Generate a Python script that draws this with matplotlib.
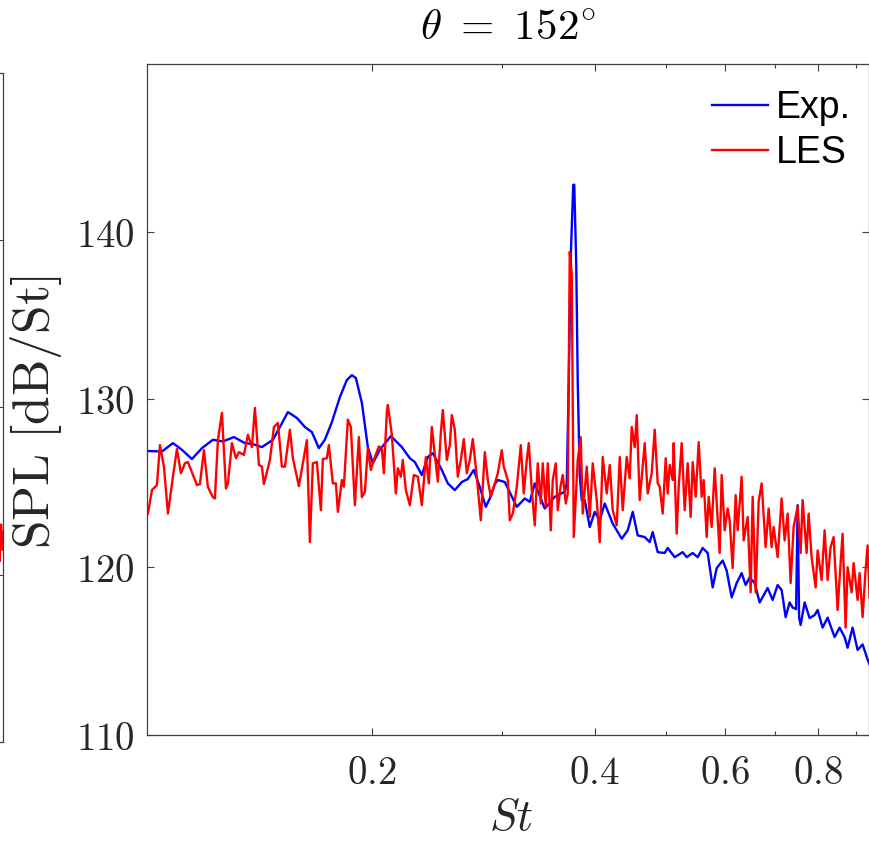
import numpy as np
import matplotlib
matplotlib.use("Agg")
import matplotlib.pyplot as plt
from matplotlib.ticker import FixedLocator, FixedFormatter, NullFormatter

plt.rcParams["mathtext.fontset"] = "cm"

# ---- experimental spectrum (Exp.) ----
exp_st = [0.0995, 0.10413, 0.10775, 0.11081, 0.11431, 0.11791, 0.12201, 0.12587,
          0.13025, 0.13478, 0.13817, 0.14209, 0.14703, 0.15027, 0.15405, 0.15842,
          0.16241, 0.16598, 0.16963, 0.17283, 0.17663, 0.18107, 0.18505, 0.18796,
          0.19031, 0.19389, 0.19754, 0.20063, 0.20504, 0.21218, 0.21956, 0.22509,
          0.22862, 0.23364, 0.23804, 0.24176, 0.24862, 0.25330, 0.25887, 0.26457,
          0.26955, 0.27462, 0.27979, 0.28506, 0.28862, 0.29314, 0.29589, 0.30240,
          0.31390, 0.32179, 0.32683, 0.33195, 0.34243, 0.35324, 0.36439, 0.36666,
          0.36895, 0.37125, 0.37415, 0.37532, 0.37766, 0.37942, 0.38178, 0.38416,
          0.38776, 0.39383, 0.40000, 0.40626, 0.41263, 0.42302, 0.43502, 0.44321,
          0.45015, 0.45720, 0.46726, 0.47457, 0.47902, 0.48652, 0.49722, 0.50188,
          0.51291, 0.52582, 0.53240, 0.54243, 0.55092, 0.55954, 0.56831, 0.57721,
          0.58443, 0.59543, 0.60288, 0.61232, 0.62191, 0.63165, 0.63955, 0.64755,
          0.65770, 0.66799, 0.68481, 0.69554, 0.70643, 0.71527, 0.72421, 0.73327,
          0.74014, 0.74820, 0.75173, 0.75523, 0.75877, 0.76827, 0.78030, 0.79253,
          0.80000, 0.81247, 0.82520, 0.84335, 0.85655, 0.86997, 0.87812, 0.89187,
          0.90584, 0.92002, 0.93443, 0.94025]
exp_spl = [126.93, 126.9, 127.4, 127.0, 126.45, 127.1, 127.6, 127.5,
           127.76, 127.4, 127.34, 127.16, 127.6, 128.36, 129.25, 128.9,
           128.36, 128.06, 127.1, 127.6, 128.65, 130.14, 131.16, 131.45,
           131.28, 129.8, 127.16, 126.2, 127.0, 127.82, 127.16, 126.5,
           126.27, 125.5, 126.57, 126.8, 125.8, 125.0, 124.6, 125.08,
           125.26, 125.8, 124.78, 123.6, 124.1, 124.96, 125.2, 125.08,
           123.6, 124.1, 123.9, 125.0, 123.5, 124.2, 124.5, 125.0,
           131.0, 138.5, 142.8, 142.8, 138.0, 131.0, 125.5, 124.0,
           124.0, 122.4, 123.3, 122.8, 123.8, 122.6, 121.7, 122.2,
           123.3, 121.9, 121.8, 121.5, 122.1, 120.9, 120.85, 121.15,
           120.6, 120.9, 120.6, 120.85, 120.6, 121.15, 120.85, 118.8,
           119.95, 120.4, 119.8, 118.2, 119.06, 119.65, 118.94, 119.4,
           119.06, 117.9, 118.76, 118.05, 118.94, 118.64, 117.03, 117.9,
           117.6, 117.5, 123.7, 117.0, 116.56, 117.9, 116.97, 117.15,
           117.45, 116.4, 117.0, 115.84, 116.4, 115.84, 115.2, 116.4,
           115.07, 115.4, 114.5, 114.2]

# ---- LES spectrum ----
les_st = [0.09969, 0.10094, 0.10252, 0.10348, 0.10477, 0.10609, 0.10775, 0.10910,
          0.11046, 0.11185, 0.11289, 0.11610, 0.11718, 0.11865, 0.12013, 0.12201,
          0.12277, 0.12392, 0.12548, 0.12705, 0.12784, 0.12944, 0.13106, 0.13229,
          0.13436, 0.13604, 0.13774, 0.13904, 0.14077, 0.14209, 0.14298, 0.14567,
          0.14749, 0.14934, 0.15121, 0.15262, 0.15501, 0.15646, 0.15941, 0.16342,
          0.16495, 0.16650, 0.16858, 0.17069, 0.17175, 0.17390, 0.17499, 0.17717,
          0.17884, 0.17995, 0.18220, 0.18334, 0.18563, 0.18737, 0.18972, 0.19209,
          0.19389, 0.19571, 0.19754, 0.19939, 0.20188, 0.20441, 0.20632, 0.20761,
          0.20955, 0.21020, 0.21284, 0.21550, 0.21685, 0.21888, 0.22024, 0.22231,
          0.22509, 0.22791, 0.23076, 0.23364, 0.23656, 0.23878, 0.24101, 0.24327,
          0.24555, 0.24785, 0.24940, 0.25252, 0.25488, 0.25647, 0.25887, 0.26130,
          0.26375, 0.26622, 0.26871, 0.27123, 0.27377, 0.27720, 0.28066, 0.28417,
          0.28684, 0.28952, 0.29223, 0.29589, 0.29959, 0.30145, 0.30523, 0.30714,
          0.31002, 0.31390, 0.31782, 0.32079, 0.32380, 0.32582, 0.32887, 0.33195,
          0.33506, 0.33820, 0.34031, 0.34350, 0.34564, 0.34887, 0.35105, 0.35434,
          0.35655, 0.35989, 0.36213, 0.36553, 0.36780, 0.37010, 0.37241, 0.37473,
          0.37942, 0.38297, 0.38536, 0.39018, 0.39383, 0.39752, 0.40249, 0.40626,
          0.41007, 0.41520, 0.41909, 0.42302, 0.42831, 0.43232, 0.43637, 0.44183,
          0.44597, 0.44875, 0.45296, 0.45578, 0.46005, 0.46436, 0.46726, 0.47163,
          0.47753, 0.48201, 0.48652, 0.48955, 0.49414, 0.49877, 0.50188, 0.50500,
          0.50973, 0.51132, 0.51611, 0.51933, 0.52419, 0.52910, 0.53406, 0.53906,
          0.54243, 0.54751, 0.55264, 0.55781, 0.56128, 0.56655, 0.57008, 0.57542,
          0.58081, 0.58625, 0.58990, 0.59358, 0.59914, 0.60475, 0.60852, 0.61422,
          0.61998, 0.62384, 0.63165, 0.63558, 0.64354, 0.64956, 0.65362, 0.65974,
          0.66592, 0.67216, 0.68057, 0.68694, 0.69338, 0.69770, 0.70643, 0.71527,
          0.72197, 0.72873, 0.73555, 0.74244, 0.75173, 0.75877, 0.76351, 0.77306,
          0.77788, 0.78517, 0.79499, 0.80000, 0.80995, 0.81754, 0.82520, 0.83292,
          0.84073, 0.85125, 0.85921, 0.86458, 0.87268, 0.87812, 0.88910, 0.89464,
          0.90584, 0.91148, 0.92002, 0.92864, 0.93443, 0.94025]
les_spl = [123.2, 124.6, 124.9, 127.28, 126.0, 123.2, 125.4, 127.05,
           125.6, 126.2, 126.27, 124.9, 124.96, 126.98, 124.78, 124.18,
           124.1, 127.58, 129.2, 124.7, 125.0, 127.4, 126.5, 126.86,
           126.7, 127.9, 127.16, 129.5, 126.1, 126.0, 124.96, 126.4,
           128.36, 128.6, 126.0, 126.0, 128.2, 126.5, 124.84, 127.58,
           121.5, 126.2, 126.27, 123.4, 126.45, 126.5, 127.28, 125.0,
           125.0, 123.3, 125.2, 124.8, 128.8, 128.36, 123.7, 127.76,
           124.18, 124.5, 127.1, 125.8, 126.57, 127.2, 127.1, 125.6,
           129.25, 129.67, 127.9, 124.4, 125.9, 125.4, 126.4, 124.6,
           123.7, 125.5, 125.4, 123.7, 126.57, 125.0, 128.36, 126.7,
           125.1, 128.0, 129.37, 126.4, 127.28, 129.07, 128.2, 125.4,
           126.4, 127.64, 125.6, 126.4, 127.64, 125.4, 122.8, 126.86,
           125.2, 124.2, 124.78, 125.6, 126.98, 126.0, 125.2, 122.8,
           123.2, 124.78, 127.28, 124.4, 126.4, 127.4, 124.6, 122.5,
           126.2, 123.8, 126.2, 123.6, 126.2, 122.2, 125.2, 126.2,
           123.4, 124.9, 125.5, 123.8, 124.4, 138.8, 137.5, 121.8,
           126.4, 127.76, 123.2, 126.0, 123.0, 126.2, 124.0, 121.5,
           126.57, 124.4, 126.1, 123.4, 122.5, 126.57, 123.4, 126.57,
           125.3, 128.36, 127.16, 129.07, 124.0, 126.0, 127.4, 124.4,
           125.6, 128.2, 125.0, 124.8, 123.2, 126.5, 124.4, 126.1,
           125.2, 127.4, 122.0, 124.78, 127.4, 123.4, 126.2, 123.0,
           126.27, 124.2, 127.46, 124.2, 125.2, 121.8, 124.2, 122.4,
           125.9, 122.8, 120.85, 125.5, 122.2, 123.5, 122.8, 119.95,
           124.3, 122.2, 125.4, 121.6, 123.0, 118.5, 124.2, 118.5,
           123.9, 125.0, 121.2, 123.5, 121.2, 122.4, 120.6, 124.1,
           121.6, 123.2, 119.06, 122.4, 123.6, 120.85, 124.0, 120.85,
           123.2, 120.6, 118.8, 121.0, 119.24, 122.2, 119.24, 121.2,
           121.8, 117.45, 120.25, 122.0, 116.4, 120.0, 118.5, 120.25,
           118.05, 119.65, 117.03, 119.83, 121.3, 118.2]

# ---- tail of the neighbouring panel ----
prev_st = [0.925, 0.928, 0.931, 0.935, 0.939]
prev_les = [112.0, 114.4, 110.8, 113.0, 111.5]
prev_exp = [112.4, 112.5, 112.5, 112.6, 112.5]

x_major = [0.2, 0.4, 0.6, 0.8]
x_major_labels = ["0.2", "0.4", "0.6", "0.8"]
x_minor = [0.3, 0.5, 0.7, 0.9]
y_major = [110, 120, 130, 140]

W, H = 870, 842
fig = plt.figure(figsize=(W / 100, H / 100), dpi=100)

axis_col = "#404040"
text_col = "#262626"
LW = 1.7


def style_box(ax):
    for s in ax.spines.values():
        s.set_color(axis_col)
        s.set_linewidth(0.9)
    ax.tick_params(which="both", direction="in", top=True, right=True,
                   color=axis_col, width=0.8)
    ax.tick_params(which="major", length=5)
    ax.tick_params(which="minor", length=3)


# neighbouring panel, mostly outside the canvas
ax0 = fig.add_axes([(3 - 800) / W, (H - 742) / H, 800 / W, (742 - 73) / H])
ax0.set_xscale("log")
ax0.set_xlim(0.0994, 0.94)
ax0.set_ylim(100, 140)
ax0.plot(prev_st, prev_exp, color="blue", lw=LW)
ax0.plot(prev_st, prev_les, color="red", lw=LW)
style_box(ax0)
ax0.set_yticks([110, 120, 130])
ax0.tick_params(labelleft=False, labelbottom=False)
ax0.xaxis.set_major_formatter(NullFormatter())
ax0.xaxis.set_minor_formatter(NullFormatter())

# main panel
ax = fig.add_axes([147 / W, (H - 735) / H, (869.5 - 147) / W, (735 - 64) / H])
ax.set_xscale("log")
ax.plot(exp_st, exp_spl, color="blue", lw=LW, label="Exp.")
ax.plot(les_st, les_spl, color="red", lw=LW, label="LES")
ax.set_xlim(0.0994, 0.94)
ax.set_ylim(110, 150)
style_box(ax)

ax.xaxis.set_major_locator(FixedLocator(x_major))
ax.xaxis.set_major_formatter(FixedFormatter([f"${t}$" for t in x_major_labels]))
ax.xaxis.set_minor_locator(FixedLocator(x_minor))
ax.xaxis.set_minor_formatter(NullFormatter())
ax.yaxis.set_major_locator(FixedLocator(y_major))
ax.yaxis.set_major_formatter(FixedFormatter([f"${v}$" for v in y_major]))
ax.tick_params(axis="both", which="major", labelsize=28, labelcolor=text_col)
ax.tick_params(axis="y", pad=9)
ax.tick_params(axis="x", pad=14)

ax.set_xlabel(r"$St$", fontsize=32, color=text_col, va="baseline")
ax.xaxis.set_label_coords((511 - 147) / 722.5, (735 - 830) / 671)
ax.set_ylabel(r"$\mathrm{SPL\ [dB/St]}$", fontsize=37, color=text_col,
              va="center", ha="center")
ax.yaxis.set_label_coords((36 - 147) / 722.5, (735 - 412) / 671)

ax.text((508 - 147) / 722.5, (735 - 28) / 671, r"$\theta\ =\ 152^{\circ}$",
        transform=ax.transAxes, ha="center", va="center", fontsize=31,
        color="black")

ax.legend(loc="upper left", bbox_to_anchor=(712 / W, 1 - 90 / H),
          bbox_transform=fig.transFigure, frameon=False, borderpad=0,
          borderaxespad=0, handlelength=1.5, handletextpad=0.2,
          labelspacing=0.25,
          prop={"family": "Liberation Sans", "size": 27})

fig.savefig("out.png", dpi=100)
